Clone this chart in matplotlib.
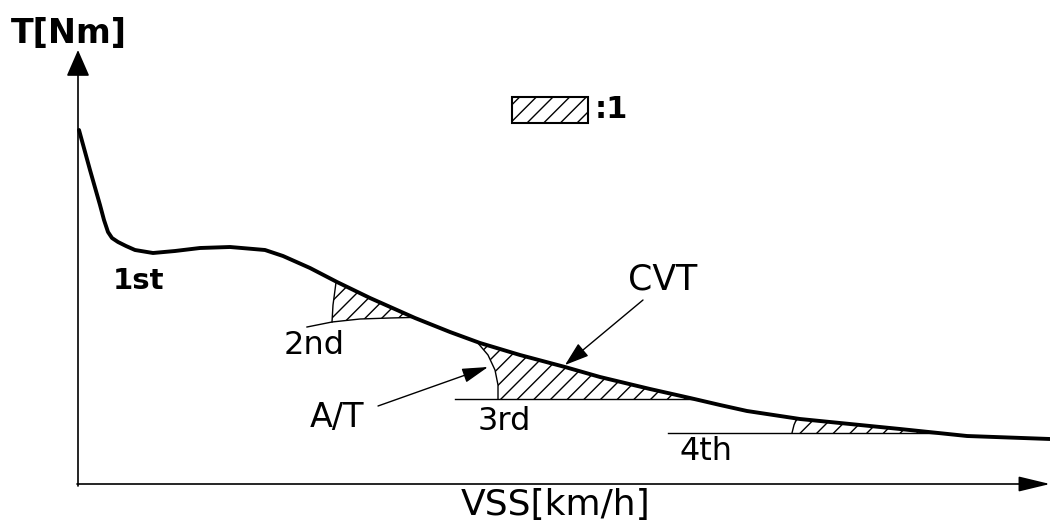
import numpy as np
import matplotlib
matplotlib.use("Agg")
import matplotlib.pyplot as plt
from matplotlib.patches import Polygon, Rectangle

# CVT torque curve (arbitrary units)
vss = [1, 12, 22, 26, 30, 34, 40, 48, 57, 75, 97, 122, 152, 187, 205, 232, 259,
       292, 337, 372, 402, 442, 487, 522, 572, 612, 642, 669, 722, 772, 822,
       889, 972]
torque = [354, 314, 279, 264, 252, 246, 242, 238, 234, 231, 233, 236, 237, 234,
          228, 216, 202, 186, 166, 152, 141, 129, 117, 107, 95, 86, 79, 73, 65,
          60, 55, 48, 45]

# A/T gear curves: shift arc and base line
gear2_arc_x = [254, 255, 257, 259]
gear2_arc_y = [162, 179, 194, 209]
gear2_base_x = [229, 254, 282, 312, 352]
gear2_base_y = [157, 162, 165, 166, 167]

gear3_arc_x = [420, 420, 417, 410, 399, 392]
gear3_arc_y = [85, 99, 114, 129, 142, 149]
gear3_base_x = [377, 632]
gear3_base_y = [85, 85]

gear4_arc_x = [714, 716, 719, 720]
gear4_arc_y = [51, 59, 66, 72]
gear4_base_x = [590, 882]
gear4_base_y = [51, 51]

gears = [(gear2_arc_x, gear2_arc_y, gear2_base_x, gear2_base_y),
         (gear3_arc_x, gear3_arc_y, gear3_base_x, gear3_base_y),
         (gear4_arc_x, gear4_arc_y, gear4_base_x, gear4_base_y)]

#%%
fig = plt.figure(figsize=(10.5, 5.25), dpi=100)
ax = fig.add_axes([0, 0, 1, 1])
ax.set_xlim(-78, 972)
ax.set_ylim(-41, 484)
ax.axis("off")

# area under the CVT curve, used to clip the hatching
under = Polygon([(vss[0], -40)] + list(zip(vss, torque)) + [(vss[-1], -40)],
                closed=True, facecolor="none", edgecolor="none")
ax.add_patch(under)

plt.rcParams["hatch.linewidth"] = 1.0
for ax_x, ax_y, bx, by in gears:
    top = max(ax_y) + 30
    verts = [(ax_x[0], ax_y[0])]
    verts += [(x, y) for x, y in zip(bx, by) if x > ax_x[0]]
    verts += [(bx[-1], top), (ax_x[-1], top)]
    verts += list(zip(ax_x, ax_y))[::-1]
    h = Polygon(verts, closed=True, facecolor="none", edgecolor="black",
                hatch="//", lw=0)
    ax.add_patch(h)
    h.set_clip_path(under)
    l1, = ax.plot(ax_x, ax_y, color="black", lw=1.0)
    l2, = ax.plot(bx, by, color="black", lw=1.0)
    l1.set_clip_path(under)
    l2.set_clip_path(under)

ax.plot(vss, torque, color="black", lw=2.8, solid_joinstyle="round",
        solid_capstyle="round")

# axes with arrows
ax.annotate("", xy=(972, 0), xytext=(-1, 0),
            arrowprops=dict(arrowstyle="-|>,head_length=1.95,head_width=0.47",
                            mutation_scale=10, lw=1.2, color="black",
                            shrinkA=0, shrinkB=0))
ax.annotate("", xy=(0, 434), xytext=(0, -2),
            arrowprops=dict(arrowstyle="-|>,head_length=1.65,head_width=0.72",
                            mutation_scale=10, lw=1.2, color="black",
                            shrinkA=0, shrinkB=0))

# callouts
ax.annotate("", xy=(487, 119), xytext=(565, 184),
            arrowprops=dict(arrowstyle="-|>,head_length=1.5,head_width=0.5",
                            mutation_scale=10, lw=1.0, color="black",
                            shrinkA=0, shrinkB=0))
ax.annotate("", xy=(410, 117), xytext=(300, 78),
            arrowprops=dict(arrowstyle="-|>,head_length=1.6,head_width=0.45",
                            mutation_scale=10, lw=1.0, color="black",
                            shrinkA=0, shrinkB=0))

# legend box
ax.add_patch(Rectangle((434, 361), 76, 26, facecolor="none", edgecolor="black",
                       hatch="//", lw=1.5))
ax.text(533, 375, ":1", fontsize=22, fontweight="bold", ha="center", va="center")

ax.text(-9, 451, "T[Nm]", fontsize=24, fontweight="bold", ha="center", va="center")
ax.text(478, -21, "VSS[km/h]", fontsize=26, ha="center", va="center")
ax.text(60, 203, "1st", fontsize=21, fontweight="bold", ha="center", va="center")
ax.text(236, 139, "2nd", fontsize=23, ha="center", va="center")
ax.text(426, 63, "3rd", fontsize=23, ha="center", va="center")
ax.text(628, 32, "4th", fontsize=23, ha="center", va="center")
ax.text(259, 66, "A/T", fontsize=24, ha="center", va="center")
ax.text(585, 204, "CVT", fontsize=25, ha="center", va="center")

fig.savefig("out.png", dpi=100)
